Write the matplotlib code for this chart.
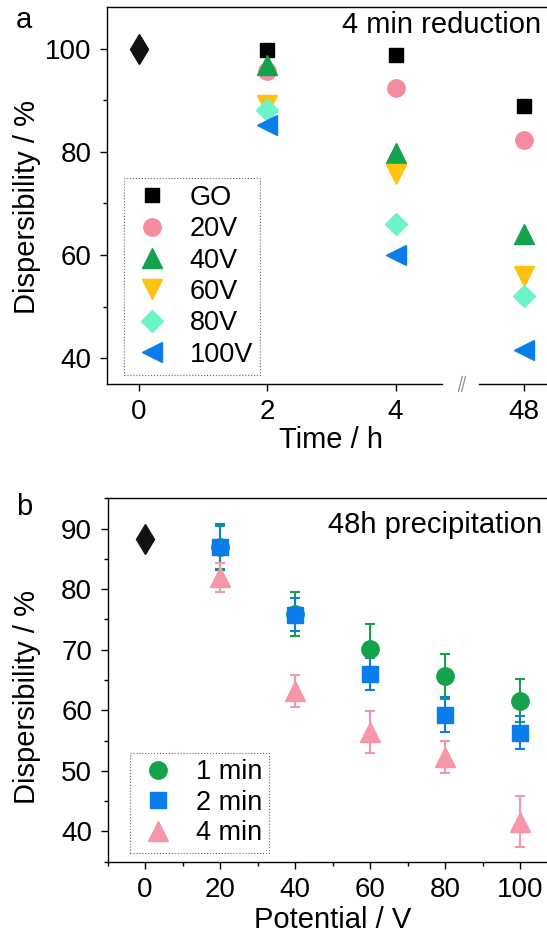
import matplotlib
matplotlib.use("Agg")
import matplotlib.pyplot as plt
import matplotlib.transforms as mtransforms
from matplotlib.ticker import MultipleLocator

plt.rcParams['font.family'] = ['Liberation Sans', 'DejaVu Sans']

# --- panel a data: dispersibility vs settling time (4 min reduction) ---
time_labels = ["0", "2", "4", "48"]
ref_a = 100.0
series_a = ["GO", "20V", "40V", "60V", "80V", "100V"]
go_vals = [99.8, 98.7, 88.8]
v20_vals = [95.6, 92.4, 82.3]
v40_vals = [96.8, 79.7, 64.1]
v60_vals = [89.0, 75.6, 55.9]
v80_vals = [88.1, 66.0, 52.1]
v100_vals = [85.2, 60.0, 41.5]

# --- panel b data: dispersibility vs potential (48h precipitation) ---
potential = [20, 40, 60, 80, 100]
ref_b = 88.3
min1 = [86.9, 75.9, 70.2, 65.6, 61.6]
min1_err = [3.5, 3.6, 4.1, 3.7, 3.6]
min2 = [87.0, 75.8, 66.0, 59.3, 56.3]
min2_err = [3.8, 2.7, 2.6, 2.9, 2.7]
min4 = [82.0, 63.2, 56.4, 52.3, 41.6]
min4_err = [2.4, 2.6, 3.5, 2.7, 4.2]

BLACK = "#000000"
PINK = "#F48C9D"
GREEN = "#14A24C"
YELLOW = "#FFC20E"
MINT = "#6CF4C6"
BLUE = "#0B7DEB"
PINK_B = "#F597A9"

W, H = 547, 942
fig = plt.figure(figsize=(W / 100, H / 100), dpi=100)


def px_axes(left, top, right, bottom):
    return fig.add_axes([left / W, 1 - bottom / H, (right - left) / W, (bottom - top) / H])


def style_axes(ax):
    for s in ax.spines.values():
        s.set_linewidth(1.0)
    ax.tick_params(which="major", direction="out", length=5, width=1, pad=6, labelsize=20)
    ax.tick_params(which="minor", direction="out", length=3, width=1)


def dotted_legend(ax, handles, labels, anchor, spacing):
    leg = ax.legend(handles, labels, loc="upper left", bbox_to_anchor=anchor,
                    borderaxespad=0, fontsize=19.5, frameon=True, fancybox=False,
                    borderpad=0.25, handlelength=1.58, handletextpad=0.6,
                    labelspacing=spacing, numpoints=1)
    frame = leg.get_frame()
    frame.set_linestyle(":")
    frame.set_edgecolor("#444444")
    frame.set_linewidth(0.8)
    return leg


# ================= panel a =================
ax = px_axes(106.7, 7.3, 556.0, 384.0)
style_axes(ax)
xi = [1, 2, 3]

ax.plot([0], [ref_a], linestyle="none", marker="d", ms=15.5, color="#111111")
ax.plot(xi, go_vals, linestyle="none", marker="s", ms=10, color=BLACK, label="GO")
ax.plot(xi, v20_vals, linestyle="none", marker="o", ms=12.5, color=PINK, label="20V")
ax.plot(xi, v40_vals, linestyle="none", marker="^", ms=14, color=GREEN, label="40V")
ax.plot(xi, v60_vals, linestyle="none", marker="v", ms=14, color=YELLOW, label="60V")
ax.plot(xi, v80_vals, linestyle="none", marker="D", ms=11, color=MINT, label="80V")
ax.plot(xi, v100_vals, linestyle="none", marker="<", ms=14, color=BLUE, label="100V")

ax.set_xlim(-0.25, 3.25)
ax.set_ylim(35, 108)
ax.set_xticks(range(len(time_labels)))
ax.set_xticklabels(time_labels)
ax.yaxis.set_major_locator(MultipleLocator(20))
ax.yaxis.set_minor_locator(MultipleLocator(10))

# broken bottom axis
ax.spines["bottom"].set_visible(False)
trans = mtransforms.blended_transform_factory(ax.transData, ax.transAxes)
ax.plot([-0.25, 2.36], [0, 0], color="black", lw=1.0, transform=trans, clip_on=False)
ax.plot([2.65, 3.25], [0, 0], color="black", lw=1.0, transform=trans, clip_on=False)
for dx in (0.0, 0.025):
    ax.plot([2.49 + dx, 2.52 + dx], [-0.02, 0.02], color="#888888", lw=0.8,
            transform=trans, clip_on=False)

ax.set_xlabel("Time / h", fontsize=21)
ax.set_ylabel("Dispersibility / %", fontsize=21)
ax.xaxis.set_label_coords(0.5, -0.112)
ax.yaxis.set_label_coords(-0.147, 0.47)
ax.text(0.968, 0.932, "4 min reduction", transform=ax.transAxes, ha="right",
        va="baseline", fontsize=21)

h_a, l_a = ax.get_legend_handles_labels()
dotted_legend(ax, h_a, l_a, (0.038, 0.547), 0.2)
fig.text(24 / W, 1 - 20 / H, "a", fontsize=21, ha="center", va="center")

# ================= panel b =================
bx = px_axes(107.5, 498.3, 557.5, 861.7)
style_axes(bx)

bx.plot([0], [ref_b], linestyle="none", marker="d", ms=15.5, color="#111111")
eb = dict(linestyle="none", capsize=3.5, elinewidth=1.5, capthick=1.5)
bx.errorbar(potential, min1, yerr=min1_err, marker="o", ms=12.5, color=GREEN,
            label="1 min", **eb)
bx.errorbar(potential, min2, yerr=min2_err, marker="s", ms=11, color=BLUE,
            label="2 min", **eb)
bx.errorbar(potential, min4, yerr=min4_err, marker="^", ms=14, color=PINK_B,
            label="4 min", **eb)

bx.set_xlim(-10, 110)
bx.set_ylim(35, 95)
bx.xaxis.set_major_locator(MultipleLocator(20))
bx.xaxis.set_minor_locator(MultipleLocator(10))
bx.yaxis.set_major_locator(MultipleLocator(10))
bx.yaxis.set_minor_locator(MultipleLocator(5))

bx.set_xlabel("Potential / V", fontsize=21)
bx.set_ylabel("Dispersibility / %", fontsize=21)
bx.xaxis.set_label_coords(0.5, -0.122)
bx.yaxis.set_label_coords(-0.147, 0.452)
bx.text(0.965, 0.904, "48h precipitation", transform=bx.transAxes, ha="right",
        va="baseline", fontsize=21)

h_b, l_b = bx.get_legend_handles_labels()
h_b = [h[0] for h in h_b]
dotted_legend(bx, h_b, l_b, (0.05, 0.30), 0.16)
fig.text(24 / W, 1 - 507 / H, "b", fontsize=21, ha="center", va="center")

fig.savefig("out.png", dpi=100)
